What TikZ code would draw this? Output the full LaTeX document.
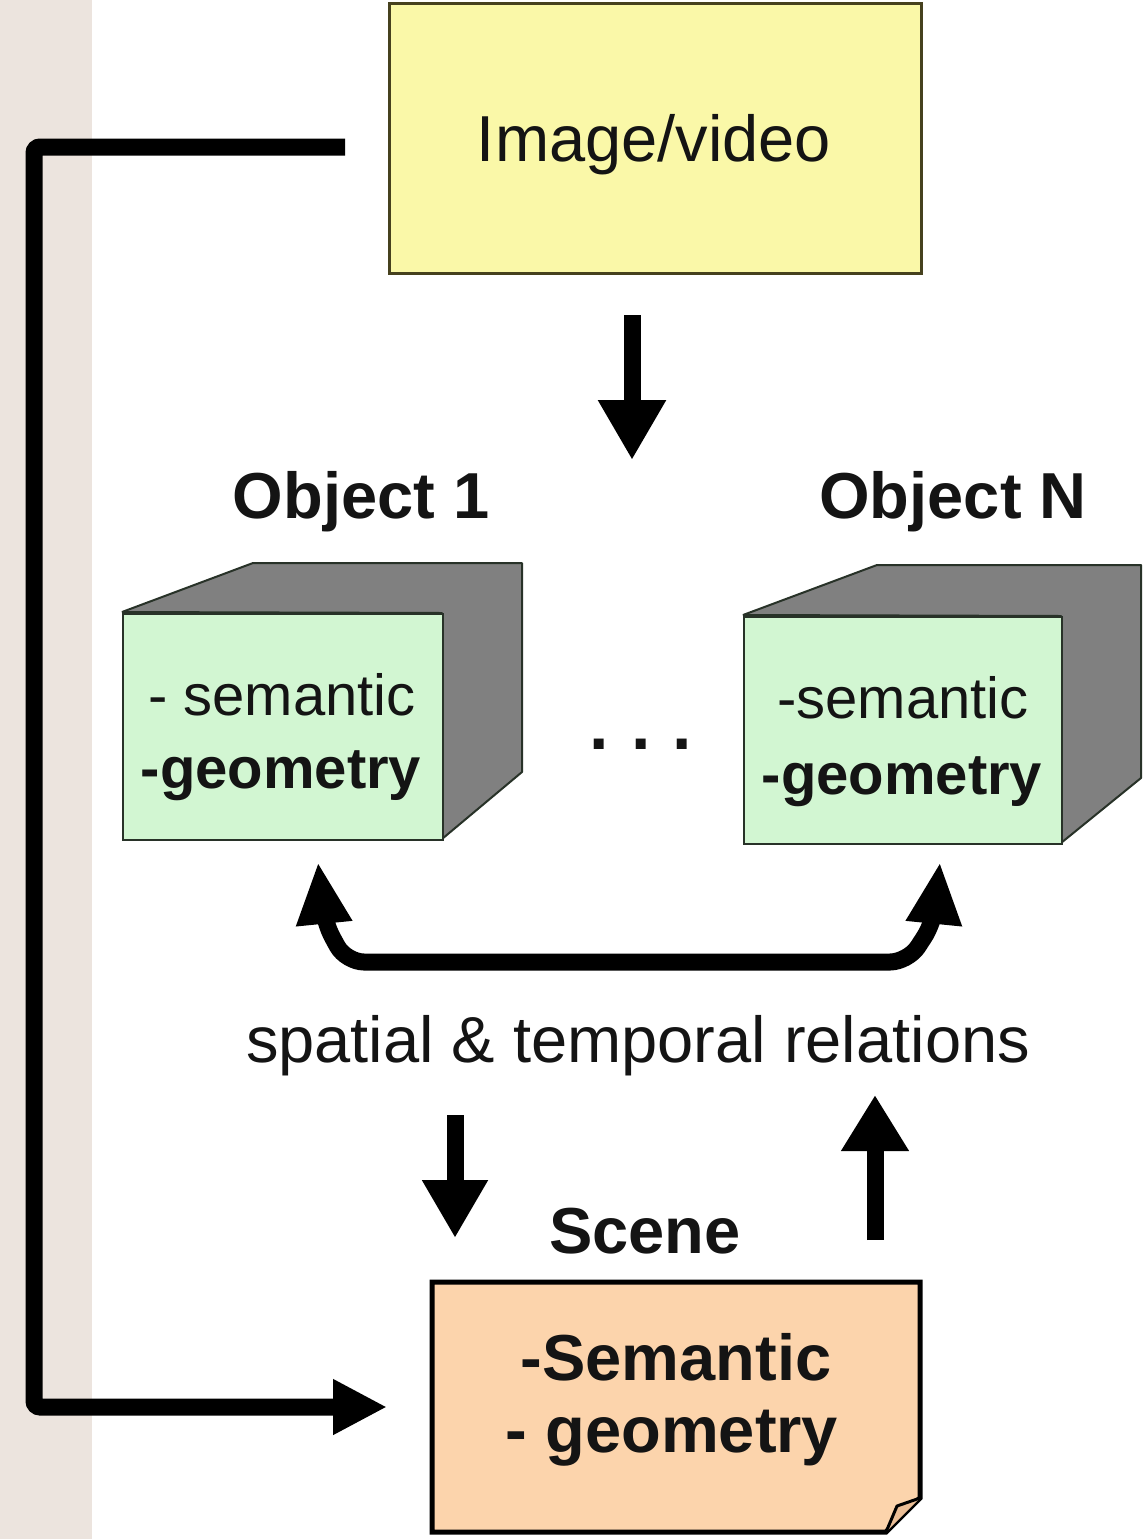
\documentclass[tikz,border=0pt]{standalone}
\usepackage{fontspec}
\setmainfont{Liberation Sans}
\usetikzlibrary{arrows.meta}
\definecolor{stripc}{RGB}{236,228,222}
\definecolor{yel}{RGB}{250,248,168}
\definecolor{ybord}{RGB}{70,65,30}
\definecolor{grn}{RGB}{210,246,210}
\definecolor{cubeb}{RGB}{40,50,40}
\definecolor{cubeg}{RGB}{128,128,128}
\definecolor{peach}{RGB}{252,212,172}
\definecolor{peachd}{RGB}{235,190,150}
\definecolor{ink}{RGB}{20,20,20}
\begin{document}
\begin{tikzpicture}[x=1pt,y=-1pt,
  txt/.style={inner sep=0pt, anchor=base, text=ink, font=\fontsize{65}{78}\selectfont},
  btxt/.style={inner sep=0pt, anchor=base, text=ink, font=\fontsize{65}{78}\selectfont\bfseries},
  ctxt/.style={inner sep=0pt, anchor=base, text=ink, font=\fontsize{58}{70}\selectfont},
  cbtxt/.style={inner sep=0pt, anchor=base, text=ink, font=\fontsize{58}{70}\selectfont\bfseries},
  face/.style={draw=cubeb, line width=2pt, fill=grn, inner sep=0pt, anchor=north west},
  side/.style={draw=cubeb, line width=2pt, fill=cubeg, line join=bevel},
  conn/.style={line width=17pt, draw=black},
  bigtip/.style={-{Triangle[length=60pt,width=64pt]}},
]
\useasboundingbox (0,0) rectangle (1148,1539);
\fill[stripc] (0,0) rectangle (92,1539);

% Image/video box
\node[draw=ybord, line width=2.5pt, fill=yel, minimum width=532pt, minimum height=270pt,
      inner sep=0pt, anchor=north west] (img) at (388,2) {};
\node[txt] (imgt) at (654,161) {Image/video};

% arrow from image to objects
\coordinate (a1s) at (632,315);
\coordinate (a1e) at (632,460);
\draw[conn, bigtip] (a1s) -- (a1e);

% Object labels
\node[btxt] (o1l) at (361,518) {Object 1};
\node[btxt] (onl) at (953,518) {Object N};

% Cube 1
\draw[side] (122,612) -- (253,563) -- (522,563) -- (522,772) -- (442,839) -- (442,613) -- cycle;
\node[face, minimum width=320pt, minimum height=226pt] (o1) at (122,613) {};
\node[ctxt] (o1a) at (282,715) {- semantic};
\node[cbtxt] (o1b) at (281,788) {-geometry};

% Cube N
\draw[side] (743,615) -- (877,565) -- (1141,565) -- (1141,778) -- (1061,843) -- (1061,616) -- cycle;
\node[face, minimum width=318pt, minimum height=227pt] (on) at (743,616) {};
\node[ctxt] (ona) at (903,718) {-semantic};
\node[cbtxt] (onb) at (902,794) {-geometry};

% dots
\node[inner sep=0pt, anchor=base, text=ink, font=\fontsize{70}{80}\selectfont\bfseries] (dots) at (641,749) {.\hspace{22pt}.\hspace{22pt}.};

% relations double arrow
\coordinate (r1) at (318,862);
\coordinate (r2) at (940,862);
\draw[conn, rounded corners=18pt, {Triangle[length=62pt,width=52pt]}-{Triangle[length=62pt,width=52pt]}]
  (r1) -- (324,922) -- (346,962) -- (908,962) -- (934,922) -- (r2);

\node[txt] (rel) at (638,1062) {spatial \& temporal relations};

% down and up arrows
\coordinate (d2s) at (455,1115);
\coordinate (d2e) at (455,1238);
\draw[conn, -{Triangle[length=58pt,width=62pt]}] (d2s) -- (d2e);
\coordinate (u1s) at (875,1240);
\coordinate (u1e) at (875,1095);
\draw[conn, -{Triangle[length=56pt,width=64pt]}] (u1s) -- (u1e);

% Scene
\node[btxt] (scl) at (645,1253) {Scene};
\draw[draw=black, line width=5pt, fill=peach, line join=miter]
  (432,1282) -- (920,1282) -- (920,1498) -- (886,1532) -- (432,1532) -- cycle;
\coordinate (scene) at (676,1407);
\draw[draw=black, line width=3pt, fill=peachd, line join=round]
  (920,1498) -- (897,1506) -- (886,1532);
\node[btxt] (sca) at (676,1380) {-Semantic};
\node[btxt] (scb) at (672,1452) {- geometry};

% left feedback connector
\coordinate (ls) at (345,147);
\coordinate (le) at (387,1407);
\draw[conn, rounded corners=6pt, -{Triangle[length=54pt,width=52pt]}]
  (ls) -- (34,147) -- (34,1407) -- (le);
\end{tikzpicture}
\end{document}
